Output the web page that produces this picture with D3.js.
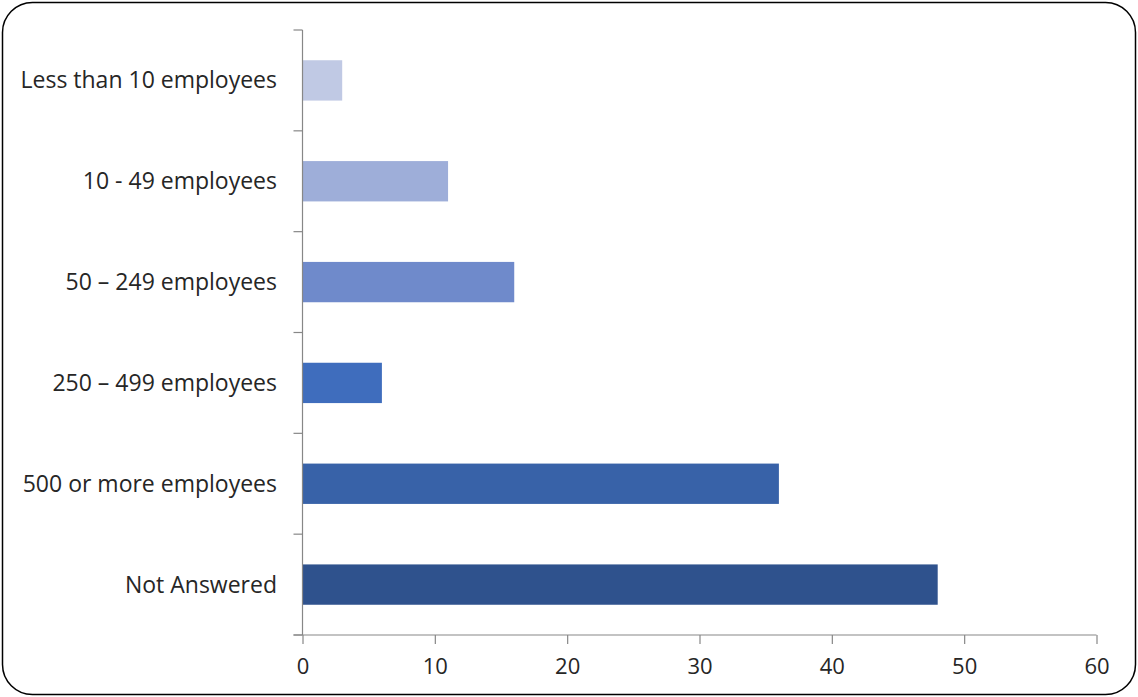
<!DOCTYPE html>
<html>
<head>
<meta charset="utf-8">
<script src="https://cdn.jsdelivr.net/npm/d3@7"></script>
<style>
  html, body { margin: 0; padding: 0; background: #fff; }
  svg { display: block; }
  text { font-family: "Open Sans", Lato, sans-serif; fill: #262626; }
</style>
</head>
<body>
<svg id="chart" width="1138" height="697"></svg>
<script>
// Respondents by organisation size
const categories = [
  "Less than 10 employees",
  "10 - 49 employees",
  "50 \u2013 249 employees",
  "250 \u2013 499 employees",
  "500 or more employees",
  "Not Answered"
];
const counts = [3, 11, 16, 6, 36, 48];
const barColors = ["#c0c9e4", "#9eaed9", "#6f8acb", "#3f6dbd", "#3862a8", "#2f528d"];
const xTicks = [0, 10, 20, 30, 40, 50, 60];

const svg = d3.select("#chart");
const W = 1138, H = 697;
const fontFamily = "'Open Sans', Lato, sans-serif";

// rounded outer frame
svg.append("rect")
  .attr("x", 2.5).attr("y", 2.5)
  .attr("width", W - 5).attr("height", H - 5)
  .attr("rx", 30).attr("ry", 30)
  .attr("fill", "#fff").attr("stroke", "#000").attr("stroke-width", 1.5);

const plotLeft = 302.5, plotRight = 1096.5, plotTop = 30, plotBottom = 635;

const x = d3.scaleLinear().domain([0, 60]).range([plotLeft, plotRight]);
const y = d3.scaleBand().domain(categories).range([plotTop, plotBottom]).paddingInner(0.6).paddingOuter(0.3);

// bars
svg.append("g").selectAll("rect")
  .data(categories)
  .join("rect")
  .attr("x", x(0))
  .attr("y", d => y(d))
  .attr("width", (d, i) => x(counts[i]) - x(0))
  .attr("height", y.bandwidth())
  .attr("fill", (d, i) => barColors[i]);

const axisColor = "#878787";

// category axis: vertical line with ticks between bands
const yAxis = svg.append("g");
yAxis.append("line")
  .attr("x1", plotLeft).attr("x2", plotLeft)
  .attr("y1", plotTop).attr("y2", plotBottom)
  .attr("stroke", axisColor).attr("stroke-width", 1.2);
const step = (plotBottom - plotTop) / categories.length;
yAxis.selectAll("line.tick")
  .data(d3.range(categories.length + 1))
  .join("line")
  .attr("class", "tick")
  .attr("x1", plotLeft - 9).attr("x2", plotLeft)
  .attr("y1", i => plotTop + i * step).attr("y2", i => plotTop + i * step)
  .attr("stroke", axisColor).attr("stroke-width", 1.2);
yAxis.selectAll("text")
  .data(categories)
  .join("text")
  .attr("x", 277)
  .attr("y", d => y(d) + y.bandwidth() / 2)
  .attr("dy", "0.35em")
  .attr("text-anchor", "end")
  .attr("font-size", 23)
  .text(d => d);

// value axis
const xAxis = svg.append("g").attr("transform", `translate(0,${plotBottom})`)
  .call(d3.axisBottom(x).tickValues(xTicks).tickSize(9).tickPadding(14).tickFormat(d3.format("d")));
xAxis.select(".domain").attr("stroke", axisColor).attr("stroke-width", 1.2)
  .attr("d", `M${plotLeft - 9},0H${plotRight}`);
xAxis.selectAll(".tick line").attr("stroke", axisColor).attr("stroke-width", 1.2);
xAxis.selectAll(".tick text").attr("font-size", 22).attr("fill", "#262626")
  .style("font-family", fontFamily);
</script>
</body>
</html>
